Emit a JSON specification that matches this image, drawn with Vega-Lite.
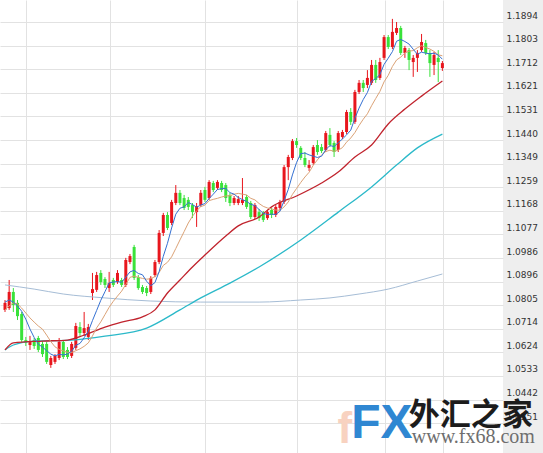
{
"$schema": "https://vega.github.io/schema/vega-lite/v6.json",
"width": 503, "height": 453,
"autosize": {"type": "none"},
"padding": {"left": 0, "top": 0, "right": 40, "bottom": 0},
"background": "#eeeeee",
"config": {"view": {"fill": "#ffffff", "stroke": null}},
"datasets": {
"candles": [
{"i":0,"o":1.0787,"h":1.0825,"l":1.0779,"c":1.0814},
{"i":1,"o":1.0794,"h":1.0902,"l":1.0787,"c":1.0856},
{"i":2,"o":1.0856,"h":1.0871,"l":1.0779,"c":1.0806},
{"i":3,"o":1.0814,"h":1.0825,"l":1.0748,"c":1.0763},
{"i":4,"o":1.0771,"h":1.0779,"l":1.0664,"c":1.0671},
{"i":5,"o":1.0671,"h":1.0683,"l":1.0648,"c":1.0660},
{"i":6,"o":1.0652,"h":1.0687,"l":1.0633,"c":1.0664},
{"i":7,"o":1.0671,"h":1.0679,"l":1.0637,"c":1.0648},
{"i":8,"o":1.0679,"h":1.0687,"l":1.0625,"c":1.0633},
{"i":9,"o":1.0656,"h":1.0667,"l":1.0606,"c":1.0617},
{"i":10,"o":1.0656,"h":1.0664,"l":1.0579,"c":1.0587},
{"i":11,"o":1.0575,"h":1.0610,"l":1.0564,"c":1.0602},
{"i":12,"o":1.0587,"h":1.0617,"l":1.0579,"c":1.0610},
{"i":13,"o":1.0602,"h":1.0679,"l":1.0594,"c":1.0664},
{"i":14,"o":1.0664,"h":1.0671,"l":1.0598,"c":1.0606},
{"i":15,"o":1.0633,"h":1.0644,"l":1.0598,"c":1.0606},
{"i":16,"o":1.0610,"h":1.0664,"l":1.0602,"c":1.0656},
{"i":17,"o":1.0641,"h":1.0737,"l":1.0633,"c":1.0725},
{"i":18,"o":1.0721,"h":1.0740,"l":1.0687,"c":1.0698},
{"i":19,"o":1.0698,"h":1.0779,"l":1.0687,"c":1.0717},
{"i":20,"o":1.0683,"h":1.0733,"l":1.0671,"c":1.0721},
{"i":21,"o":1.0852,"h":1.0929,"l":1.0825,"c":1.0867},
{"i":22,"o":1.0864,"h":1.0933,"l":1.0856,"c":1.0921},
{"i":23,"o":1.0929,"h":1.0940,"l":1.0883,"c":1.0894},
{"i":24,"o":1.0906,"h":1.0913,"l":1.0871,"c":1.0883},
{"i":25,"o":1.0871,"h":1.0933,"l":1.0856,"c":1.0890},
{"i":26,"o":1.0902,"h":1.0910,"l":1.0875,"c":1.0883},
{"i":27,"o":1.0894,"h":1.0940,"l":1.0887,"c":1.0929},
{"i":28,"o":1.0902,"h":1.0910,"l":1.0875,"c":1.0883},
{"i":29,"o":1.0883,"h":1.0987,"l":1.0875,"c":1.0979},
{"i":30,"o":1.0971,"h":1.1002,"l":1.0963,"c":1.0994},
{"i":31,"o":1.1029,"h":1.1037,"l":1.0902,"c":1.0910},
{"i":32,"o":1.0913,"h":1.0921,"l":1.0864,"c":1.0871},
{"i":33,"o":1.0875,"h":1.0883,"l":1.0848,"c":1.0856},
{"i":34,"o":1.0871,"h":1.0879,"l":1.0840,"c":1.0852},
{"i":35,"o":1.0856,"h":1.0917,"l":1.0848,"c":1.0910},
{"i":36,"o":1.0921,"h":1.0979,"l":1.0913,"c":1.0971},
{"i":37,"o":1.0971,"h":1.1094,"l":1.0963,"c":1.1083},
{"i":38,"o":1.1083,"h":1.1160,"l":1.1071,"c":1.1152},
{"i":39,"o":1.1152,"h":1.1163,"l":1.1094,"c":1.1102},
{"i":40,"o":1.1121,"h":1.1210,"l":1.1113,"c":1.1202},
{"i":41,"o":1.1198,"h":1.1267,"l":1.1190,"c":1.1237},
{"i":42,"o":1.1237,"h":1.1248,"l":1.1190,"c":1.1198},
{"i":43,"o":1.1217,"h":1.1229,"l":1.1171,"c":1.1179},
{"i":44,"o":1.1210,"h":1.1221,"l":1.1171,"c":1.1183},
{"i":45,"o":1.1190,"h":1.1198,"l":1.1140,"c":1.1163},
{"i":46,"o":1.1163,"h":1.1198,"l":1.1106,"c":1.1186},
{"i":47,"o":1.1190,"h":1.1248,"l":1.1183,"c":1.1237},
{"i":48,"o":1.1248,"h":1.1260,"l":1.1202,"c":1.1210},
{"i":49,"o":1.1217,"h":1.1286,"l":1.1210,"c":1.1279},
{"i":50,"o":1.1275,"h":1.1283,"l":1.1240,"c":1.1248},
{"i":51,"o":1.1256,"h":1.1286,"l":1.1248,"c":1.1279},
{"i":52,"o":1.1275,"h":1.1283,"l":1.1240,"c":1.1248},
{"i":53,"o":1.1267,"h":1.1275,"l":1.1202,"c":1.1217},
{"i":54,"o":1.1229,"h":1.1237,"l":1.1186,"c":1.1198},
{"i":55,"o":1.1198,"h":1.1225,"l":1.1190,"c":1.1217},
{"i":56,"o":1.1198,"h":1.1225,"l":1.1190,"c":1.1213},
{"i":57,"o":1.1198,"h":1.1294,"l":1.1190,"c":1.1210},
{"i":58,"o":1.1221,"h":1.1229,"l":1.1175,"c":1.1183},
{"i":59,"o":1.1198,"h":1.1206,"l":1.1136,"c":1.1144},
{"i":60,"o":1.1144,"h":1.1198,"l":1.1136,"c":1.1190},
{"i":61,"o":1.1163,"h":1.1175,"l":1.1129,"c":1.1140},
{"i":62,"o":1.1160,"h":1.1167,"l":1.1125,"c":1.1133},
{"i":63,"o":1.1140,"h":1.1171,"l":1.1133,"c":1.1163},
{"i":64,"o":1.1171,"h":1.1179,"l":1.1140,"c":1.1152},
{"i":65,"o":1.1152,"h":1.1190,"l":1.1144,"c":1.1183},
{"i":66,"o":1.1179,"h":1.1210,"l":1.1171,"c":1.1202},
{"i":67,"o":1.1202,"h":1.1344,"l":1.1194,"c":1.1336},
{"i":68,"o":1.1336,"h":1.1383,"l":1.1286,"c":1.1375},
{"i":69,"o":1.1371,"h":1.1444,"l":1.1363,"c":1.1436},
{"i":70,"o":1.1436,"h":1.1448,"l":1.1410,"c":1.1421},
{"i":71,"o":1.1410,"h":1.1417,"l":1.1363,"c":1.1371},
{"i":72,"o":1.1371,"h":1.1394,"l":1.1336,"c":1.1344},
{"i":73,"o":1.1333,"h":1.1363,"l":1.1321,"c":1.1344},
{"i":74,"o":1.1352,"h":1.1421,"l":1.1344,"c":1.1413},
{"i":75,"o":1.1421,"h":1.1440,"l":1.1383,"c":1.1394},
{"i":76,"o":1.1413,"h":1.1425,"l":1.1390,"c":1.1398},
{"i":77,"o":1.1402,"h":1.1475,"l":1.1394,"c":1.1467},
{"i":78,"o":1.1460,"h":1.1486,"l":1.1413,"c":1.1421},
{"i":79,"o":1.1429,"h":1.1436,"l":1.1375,"c":1.1394},
{"i":80,"o":1.1402,"h":1.1475,"l":1.1394,"c":1.1467},
{"i":81,"o":1.1452,"h":1.1479,"l":1.1444,"c":1.1471},
{"i":82,"o":1.1471,"h":1.1556,"l":1.1463,"c":1.1548},
{"i":83,"o":1.1548,"h":1.1563,"l":1.1498,"c":1.1510},
{"i":84,"o":1.1510,"h":1.1633,"l":1.1502,"c":1.1625},
{"i":85,"o":1.1625,"h":1.1671,"l":1.1617,"c":1.1660},
{"i":86,"o":1.1660,"h":1.1671,"l":1.1625,"c":1.1640},
{"i":87,"o":1.1652,"h":1.1709,"l":1.1640,"c":1.1679},
{"i":88,"o":1.1660,"h":1.1748,"l":1.1652,"c":1.1729},
{"i":89,"o":1.1729,"h":1.1748,"l":1.1660,"c":1.1671},
{"i":90,"o":1.1679,"h":1.1756,"l":1.1671,"c":1.1740},
{"i":91,"o":1.1756,"h":1.1844,"l":1.1748,"c":1.1836},
{"i":92,"o":1.1836,"h":1.1844,"l":1.1790,"c":1.1798},
{"i":93,"o":1.1798,"h":1.1906,"l":1.1790,"c":1.1856},
{"i":94,"o":1.1852,"h":1.1894,"l":1.1844,"c":1.1871},
{"i":95,"o":1.1871,"h":1.1879,"l":1.1767,"c":1.1775},
{"i":96,"o":1.1775,"h":1.1802,"l":1.1756,"c":1.1794},
{"i":97,"o":1.1786,"h":1.1794,"l":1.1709,"c":1.1748},
{"i":98,"o":1.1740,"h":1.1767,"l":1.1683,"c":1.1756},
{"i":99,"o":1.1756,"h":1.1786,"l":1.1702,"c":1.1775},
{"i":100,"o":1.1786,"h":1.1848,"l":1.1779,"c":1.1817},
{"i":101,"o":1.1813,"h":1.1825,"l":1.1767,"c":1.1775},
{"i":102,"o":1.1775,"h":1.1786,"l":1.1683,"c":1.1736},
{"i":103,"o":1.1729,"h":1.1779,"l":1.1690,"c":1.1767},
{"i":104,"o":1.1756,"h":1.1786,"l":1.1663,"c":1.1740},
{"i":105,"o":1.1717,"h":1.1744,"l":1.1706,"c":1.1736}
],
"ma": [
{"i":0,"ma5":1.0817,"ma10":1.0787},{"i":1,"ma5":1.0825,"ma10":1.0802},{"i":2,"ma5":1.0817,"ma10":1.0814},{"i":3,"ma5":1.0802,"ma10":1.0810},
{"i":4,"ma5":1.0782,"ma10":1.0794},{"i":5,"ma5":1.0751,"ma10":1.0775},{"i":6,"ma5":1.0713,"ma10":1.0756},{"i":7,"ma5":1.0681,"ma10":1.0740},
{"i":8,"ma5":1.0655,"ma10":1.0725},{"i":9,"ma5":1.0644,"ma10":1.0713},{"i":10,"ma5":1.0630,"ma10":1.0690},{"i":11,"ma5":1.0617,"ma10":1.0665},
{"i":12,"ma5":1.0610,"ma10":1.0645},{"i":13,"ma5":1.0616,"ma10":1.0635},{"i":14,"ma5":1.0614,"ma10":1.0629},{"i":15,"ma5":1.0617,"ma10":1.0624},
{"i":16,"ma5":1.0628,"ma10":1.0623},{"i":17,"ma5":1.0651,"ma10":1.0630},{"i":18,"ma5":1.0658,"ma10":1.0637},{"i":19,"ma5":1.0680,"ma10":1.0647},
{"i":20,"ma5":1.0704,"ma10":1.0660},{"i":21,"ma5":1.0746,"ma10":1.0687},{"i":22,"ma5":1.0785,"ma10":1.0718},{"i":23,"ma5":1.0824,"ma10":1.0741},
{"i":24,"ma5":1.0857,"ma10":1.0769},{"i":25,"ma5":1.0891,"ma10":1.0797},{"i":26,"ma5":1.0894,"ma10":1.0820},{"i":27,"ma5":1.0896,"ma10":1.0840},
{"i":28,"ma5":1.0893,"ma10":1.0859},{"i":29,"ma5":1.0913,"ma10":1.0885},{"i":30,"ma5":1.0933,"ma10":1.0912},{"i":31,"ma5":1.0939,"ma10":1.0917},
{"i":32,"ma5":1.0927,"ma10":1.0912},{"i":33,"ma5":1.0922,"ma10":1.0908},{"i":34,"ma5":1.0897,"ma10":1.0905},{"i":35,"ma5":1.0880,"ma10":1.0907},
{"i":36,"ma5":1.0892,"ma10":1.0915},{"i":37,"ma5":1.0934,"ma10":1.0931},{"i":38,"ma5":1.0993,"ma10":1.0958},{"i":39,"ma5":1.1043,"ma10":1.0970},
{"i":40,"ma5":1.1102,"ma10":1.0991},{"i":41,"ma5":1.1155,"ma10":1.1023},{"i":42,"ma5":1.1178,"ma10":1.1056},{"i":43,"ma5":1.1183,"ma10":1.1088},
{"i":44,"ma5":1.1200,"ma10":1.1121},{"i":45,"ma5":1.1192,"ma10":1.1147},{"i":46,"ma5":1.1182,"ma10":1.1168},{"i":47,"ma5":1.1190,"ma10":1.1184},
{"i":48,"ma5":1.1196,"ma10":1.1190},{"i":49,"ma5":1.1215,"ma10":1.1207},{"i":50,"ma5":1.1232,"ma10":1.1212},{"i":51,"ma5":1.1250,"ma10":1.1216},
{"i":52,"ma5":1.1253,"ma10":1.1221},{"i":53,"ma5":1.1254,"ma10":1.1225},{"i":54,"ma5":1.1238,"ma10":1.1226},{"i":55,"ma5":1.1232,"ma10":1.1232},
{"i":56,"ma5":1.1219,"ma10":1.1235},{"i":57,"ma5":1.1211,"ma10":1.1232},{"i":58,"ma5":1.1204,"ma10":1.1229},{"i":59,"ma5":1.1193,"ma10":1.1216},
{"i":60,"ma5":1.1188,"ma10":1.1210},{"i":61,"ma5":1.1173,"ma10":1.1196},{"i":62,"ma5":1.1158,"ma10":1.1185},{"i":63,"ma5":1.1154,"ma10":1.1179},
{"i":64,"ma5":1.1155,"ma10":1.1175},{"i":65,"ma5":1.1154,"ma10":1.1171},{"i":66,"ma5":1.1166,"ma10":1.1170},{"i":67,"ma5":1.1207,"ma10":1.1183},
{"i":68,"ma5":1.1250,"ma10":1.1202},{"i":69,"ma5":1.1306,"ma10":1.1231},{"i":70,"ma5":1.1354,"ma10":1.1254},{"i":71,"ma5":1.1388,"ma10":1.1277},
{"i":72,"ma5":1.1390,"ma10":1.1298},{"i":73,"ma5":1.1383,"ma10":1.1316},{"i":74,"ma5":1.1378,"ma10":1.1343},{"i":75,"ma5":1.1373,"ma10":1.1364},
{"i":76,"ma5":1.1378,"ma10":1.1383},{"i":77,"ma5":1.1403,"ma10":1.1396},{"i":78,"ma5":1.1419,"ma10":1.1401},{"i":79,"ma5":1.1415,"ma10":1.1397},
{"i":80,"ma5":1.1430,"ma10":1.1401},{"i":81,"ma5":1.1444,"ma10":1.1411},{"i":82,"ma5":1.1460,"ma10":1.1432},{"i":83,"ma5":1.1478,"ma10":1.1448},
{"i":84,"ma5":1.1524,"ma10":1.1469},{"i":85,"ma5":1.1563,"ma10":1.1496},{"i":86,"ma5":1.1596,"ma10":1.1520},{"i":87,"ma5":1.1623,"ma10":1.1541},
{"i":88,"ma5":1.1666,"ma10":1.1572},{"i":89,"ma5":1.1676,"ma10":1.1600},{"i":90,"ma5":1.1692,"ma10":1.1627},{"i":91,"ma5":1.1731,"ma10":1.1664},
{"i":92,"ma5":1.1755,"ma10":1.1689},{"i":93,"ma5":1.1780,"ma10":1.1723},{"i":94,"ma5":1.1820,"ma10":1.1748},{"i":95,"ma5":1.1827,"ma10":1.1759},
{"i":96,"ma5":1.1819,"ma10":1.1775},{"i":97,"ma5":1.1809,"ma10":1.1782},{"i":98,"ma5":1.1789,"ma10":1.1784},{"i":99,"ma5":1.1770,"ma10":1.1795},
{"i":100,"ma5":1.1778,"ma10":1.1803},{"i":101,"ma5":1.1774,"ma10":1.1796},{"i":102,"ma5":1.1772,"ma10":1.1790},{"i":103,"ma5":1.1774,"ma10":1.1781},
{"i":104,"ma5":1.1767,"ma10":1.1768},{"i":105,"ma5":1.1751,"ma10":1.1764}
],
"mid": [
{"i":0,"v":1.0633},{"i":2,"v":1.0660},{"i":9,"v":1.0667},{"i":15,"v":1.0671},{"i":19,"v":1.0690},{"i":24,"v":1.0721},
{"i":28,"v":1.0740},{"i":33,"v":1.0760},{"i":36,"v":1.0787},{"i":39,"v":1.0852},{"i":42,"v":1.0902},{"i":45,"v":1.0952},
{"i":48,"v":1.0998},{"i":53,"v":1.1071},{"i":56,"v":1.1110},{"i":61,"v":1.1144},{"i":64,"v":1.1183},{"i":70,"v":1.1225},
{"i":76,"v":1.1275},{"i":80,"v":1.1317},{"i":84,"v":1.1375},{"i":88,"v":1.1421},{"i":92,"v":1.1502},{"i":96,"v":1.1559},
{"i":100,"v":1.1609},{"i":105,"v":1.1667}
],
"long": [
{"i":0,"v":1.0633},{"i":2,"v":1.0652},{"i":7,"v":1.0667},{"i":16,"v":1.0671},{"i":24,"v":1.0686},{"i":34,"v":1.0717},
{"i":42,"v":1.0787},{"i":47,"v":1.0833},{"i":54,"v":1.0890},{"i":61,"v":1.0952},{"i":71,"v":1.1056},{"i":80,"v":1.1163},
{"i":88,"v":1.1260},{"i":94,"v":1.1344},{"i":99,"v":1.1410},{"i":105,"v":1.1463}
],
"slow": [
{"i":0,"v":1.0883},{"i":7,"v":1.0867},{"i":14,"v":1.0848},{"i":24,"v":1.0833},{"i":35,"v":1.0821},{"i":47,"v":1.0817},
{"i":61,"v":1.0817},{"i":71,"v":1.0825},{"i":78,"v":1.0833},{"i":85,"v":1.0848},{"i":92,"v":1.0867},{"i":99,"v":1.0898},
{"i":105,"v":1.0925}
]
},
"layer": [
{
"data": {"name": "candles"},
"mark": {"type": "rule", "strokeWidth": 1},
"encoding": {
"x": {"field": "i", "type": "quantitative", "scale": {"domain": [0, 118.35], "nice": false, "zero": false},
 "axis": {"values": [5, 25.2, 48, 70.1, 91.3, 105.2], "tickCount": 50, "labels": false, "ticks": false, "domain": false, "title": null, "grid": true, "gridColor": "#e2e2e2", "gridWidth": 1}},
"y": {"field": "l", "type": "quantitative", "scale": {"domain": [1.02367, 1.19786], "nice": false, "zero": false},
 "axis": {"orient": "right", "values": [1.1894, 1.1803, 1.1712, 1.1621, 1.1531, 1.1440, 1.1349, 1.1259, 1.1168, 1.1077, 1.0986, 1.0896, 1.0805, 1.0714, 1.0624, 1.0533, 1.0442, 1.0351],
  "tickCount": 50, "format": ".4f", "title": null, "ticks": false, "domain": false, "grid": true, "gridColor": "#e2e2e2", "gridWidth": 1,
  "labelFont": "DejaVu Sans", "labelFontSize": 9, "labelColor": "#333333", "labelPadding": 3, "labelAlign": "left",
  "labelBaseline": "alphabetic", "labelOffset": -4, "labelOverlap": false, "labelBound": false, "labelFlush": false}},
"y2": {"field": "h"},
"color": {"condition": {"test": "datum.c >= datum.o", "value": "#e8161d"}, "value": "#39e23a"}
}
},
{
"data": {"name": "candles"},
"mark": {"type": "bar", "width": 3},
"encoding": {
"x": {"field": "i", "type": "quantitative"},
"y": {"field": "o", "type": "quantitative"},
"y2": {"field": "c"},
"color": {"condition": {"test": "datum.c >= datum.o", "value": "#e8161d"}, "value": "#39e23a"}
}
},
{
"data": {"name": "slow"},
"mark": {"type": "line", "color": "#a6bdd6", "strokeWidth": 1, "interpolate": "monotone"},
"encoding": {"x": {"field": "i", "type": "quantitative"}, "y": {"field": "v", "type": "quantitative"}}
},
{
"data": {"name": "long"},
"mark": {"type": "line", "color": "#2bb9c9", "strokeWidth": 1.3, "interpolate": "monotone"},
"encoding": {"x": {"field": "i", "type": "quantitative"}, "y": {"field": "v", "type": "quantitative"}}
},
{
"data": {"name": "mid"},
"mark": {"type": "line", "color": "#c0232d", "strokeWidth": 1.3, "interpolate": "monotone"},
"encoding": {"x": {"field": "i", "type": "quantitative"}, "y": {"field": "v", "type": "quantitative"}}
},
{
"data": {"name": "ma"},
"mark": {"type": "line", "color": "#dba276", "strokeWidth": 1},
"encoding": {"x": {"field": "i", "type": "quantitative"}, "y": {"field": "ma10", "type": "quantitative"}}
},
{
"data": {"name": "ma"},
"mark": {"type": "line", "color": "#3470d2", "strokeWidth": 1},
"encoding": {"x": {"field": "i", "type": "quantitative"}, "y": {"field": "ma5", "type": "quantitative"}}
},
{
"data": {"values": [{"t": "f"}]},
"mark": {"type": "text", "align": "left", "baseline": "alphabetic", "font": "Liberation Sans", "fontWeight": "bold", "fontSize": 44, "color": "#f8d2c0"},
"encoding": {"text": {"field": "t"}, "x": {"datum": 79.8, "type": "quantitative"}, "y": {"datum": 1.0275, "type": "quantitative"}}
},
{
"data": {"values": [{"t": "FX"}]},
"mark": {"type": "text", "align": "left", "baseline": "alphabetic", "font": "Liberation Sans", "fontWeight": "bold", "fontSize": 48, "color": "#2f87d2"},
"encoding": {"text": {"field": "t"}, "x": {"datum": 83.1, "type": "quantitative"}, "y": {"datum": 1.0294, "type": "quantitative"}}
},
{
"data": {"values": [{"t": "外汇之家"}]},
"mark": {"type": "text", "align": "left", "baseline": "alphabetic", "font": "Noto Sans CJK SC", "fontWeight": "bold", "fontSize": 31, "color": "#1c1c1c"},
"encoding": {"text": {"field": "t"}, "x": {"datum": 96.94, "type": "quantitative"}, "y": {"datum": 1.03443, "type": "quantitative"}}
},
{
"data": {"values": [{"t": "www.fx68.com"}]},
"mark": {"type": "text", "align": "left", "baseline": "alphabetic", "font": "Liberation Serif", "fontSize": 20, "color": "#6e6e6e"},
"encoding": {"text": {"field": "t"}, "x": {"datum": 97.65, "type": "quantitative"}, "y": {"datum": 1.02751, "type": "quantitative"}}
}
]
}
